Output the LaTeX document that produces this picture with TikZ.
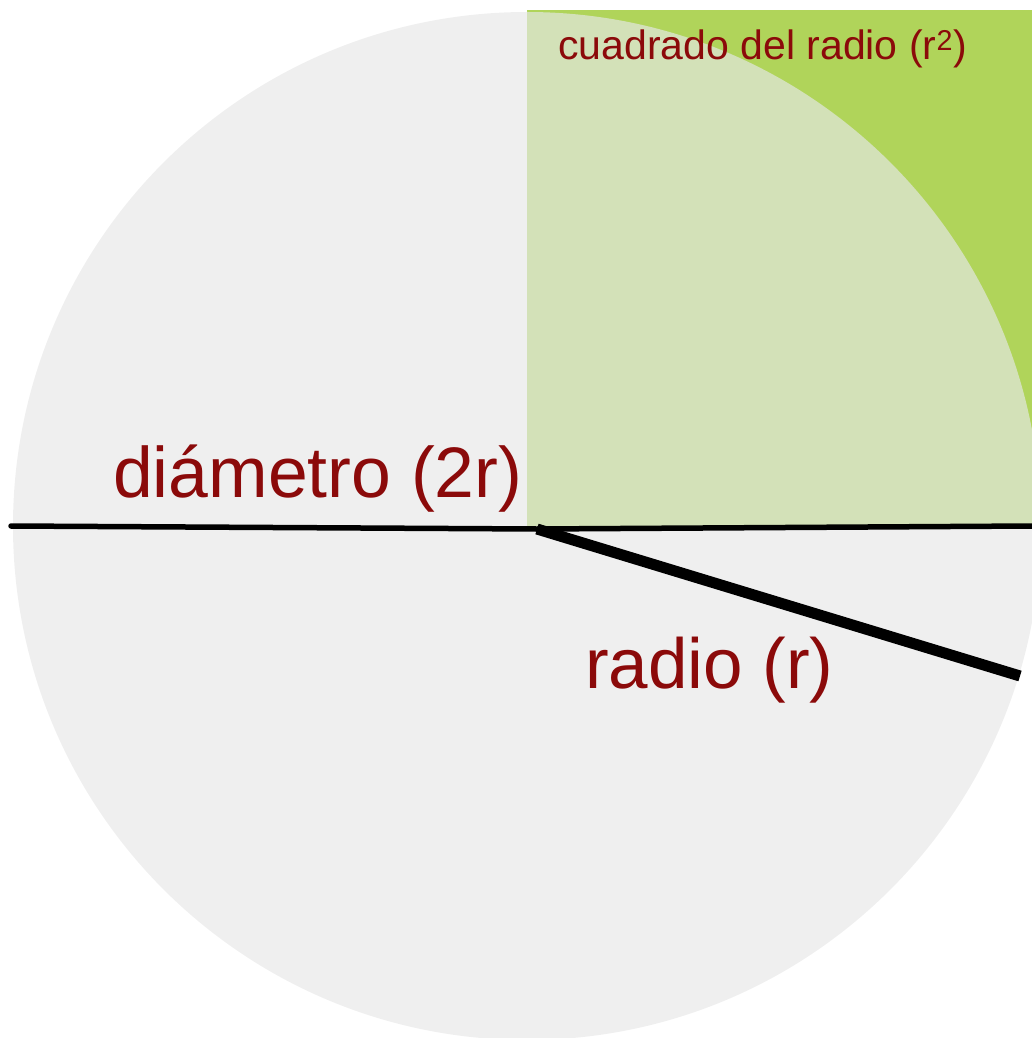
\documentclass[tikz,border=0pt]{standalone}
\usepackage{fontspec}
\setmainfont{Liberation Sans}
\definecolor{bggray}{HTML}{EFEFEF}
\definecolor{lightgreen}{HTML}{D3E1B8}
\definecolor{darkgreen}{HTML}{B0D45A}
\definecolor{labelred}{HTML}{8B0A0A}
\begin{document}
\begin{tikzpicture}[x=1pt,y=-1pt,
  lbl/.style={anchor=base west,inner sep=0pt,text=labelred},
  bigline/.style={line width=5.5pt,black},
  radline/.style={line width=11pt,black}]
\useasboundingbox (0,0) rectangle (1032,1038);
\begin{scope}
\clip (0,0) rectangle (1032,1038);
\fill[bggray] (527,526) circle (514);
\fill[darkgreen] (527,10) rectangle (1040,526);
\begin{scope}
\clip (527,526) circle (514);
\fill[lightgreen] (527,10) rectangle (1040,526);
\end{scope}
\end{scope}
\coordinate (dl) at (11,526);
\coordinate (dr) at (1032,526);
\coordinate (c) at (537,529);
\coordinate (re) at (1020,676);
\draw[bigline,line cap=round] (dl) -- (c);
\draw[bigline] (c) -- (dr);
\draw[radline] (c) -- (re);
\node[lbl,font=\fontsize{71.5}{80}\selectfont] (diam) at (113,497) {diámetro (2r)};
\node[lbl,font=\fontsize{71}{80}\selectfont] (rad) at (585,688) {radio (r)};
\node[lbl,font=\fontsize{41}{46}\selectfont] (sq) at (558,60) {cuadrado del radio (r\textsuperscript{2})};
\end{tikzpicture}
\end{document}
